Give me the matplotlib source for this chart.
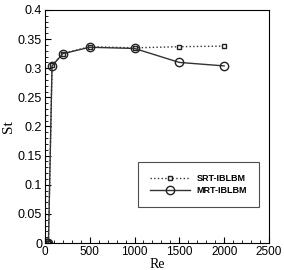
import matplotlib
matplotlib.use("Agg")
import matplotlib.pyplot as plt
from matplotlib.ticker import MultipleLocator, FuncFormatter

# Strouhal number vs Reynolds number
re_vals = [10, 20, 40, 80, 200, 500, 1000, 1500, 2000]
st_srt = [0.0, 0.0, 0.0, 0.305, 0.325, 0.337, 0.335, 0.337, 0.338]
st_mrt = [0.0, 0.0, 0.0, 0.304, 0.325, 0.336, 0.334, 0.310, 0.304]

fig = plt.figure(figsize=(2.84, 2.70), dpi=100)
ax = fig.add_axes([0.158, 0.1, 0.789, 0.863])

ax.plot(re_vals, st_srt, color='#333333', linestyle=':', linewidth=1.0,
        marker='s', markersize=3.5, markerfacecolor='white',
        markeredgecolor='#222222', markeredgewidth=1.0, label='SRT-IBLBM')
ax.plot(re_vals, st_mrt, color='#333333', linestyle='-', linewidth=1.0,
        marker='o', markersize=6, markerfacecolor='none',
        markeredgecolor='#222222', markeredgewidth=1.0, label='MRT-IBLBM')

ax.set_xlim(0, 2500)
ax.set_ylim(0, 0.4)
ax.xaxis.set_major_locator(MultipleLocator(500))
ax.xaxis.set_minor_locator(MultipleLocator(100))
ax.yaxis.set_major_locator(MultipleLocator(0.05))
ax.yaxis.set_minor_locator(MultipleLocator(0.01))
ax.yaxis.set_major_formatter(FuncFormatter(lambda v, p: f"{v:g}"))
ax.tick_params(which='both', direction='in', top=False, right=False,
               labelsize=9, pad=2)
ax.tick_params(axis='x', labelsize=8.5)
ax.tick_params(which='major', length=4, width=0.8)
ax.tick_params(which='minor', length=2, width=0.6)
for lab in ax.get_xticklabels() + ax.get_yticklabels():
    lab.set_family('Liberation Sans')
for s in ax.spines.values():
    s.set_linewidth(0.8)

ax.set_xlabel('Re', family='Liberation Serif', fontsize=10, labelpad=0)
ax.set_ylabel('St', family='Liberation Serif', fontsize=11, labelpad=2)

leg = ax.legend(loc='center right', bbox_to_anchor=(0.956, 0.251),
                prop={'family': 'Liberation Sans', 'weight': 'bold', 'size': 6.5},
                frameon=True, fancybox=False, edgecolor='#222222',
                handlelength=4.4, handletextpad=0.8, borderpad=1.3,
                labelspacing=0.35, borderaxespad=0)
leg.get_frame().set_linewidth(0.8)

fig.savefig('out.png', dpi=100)
